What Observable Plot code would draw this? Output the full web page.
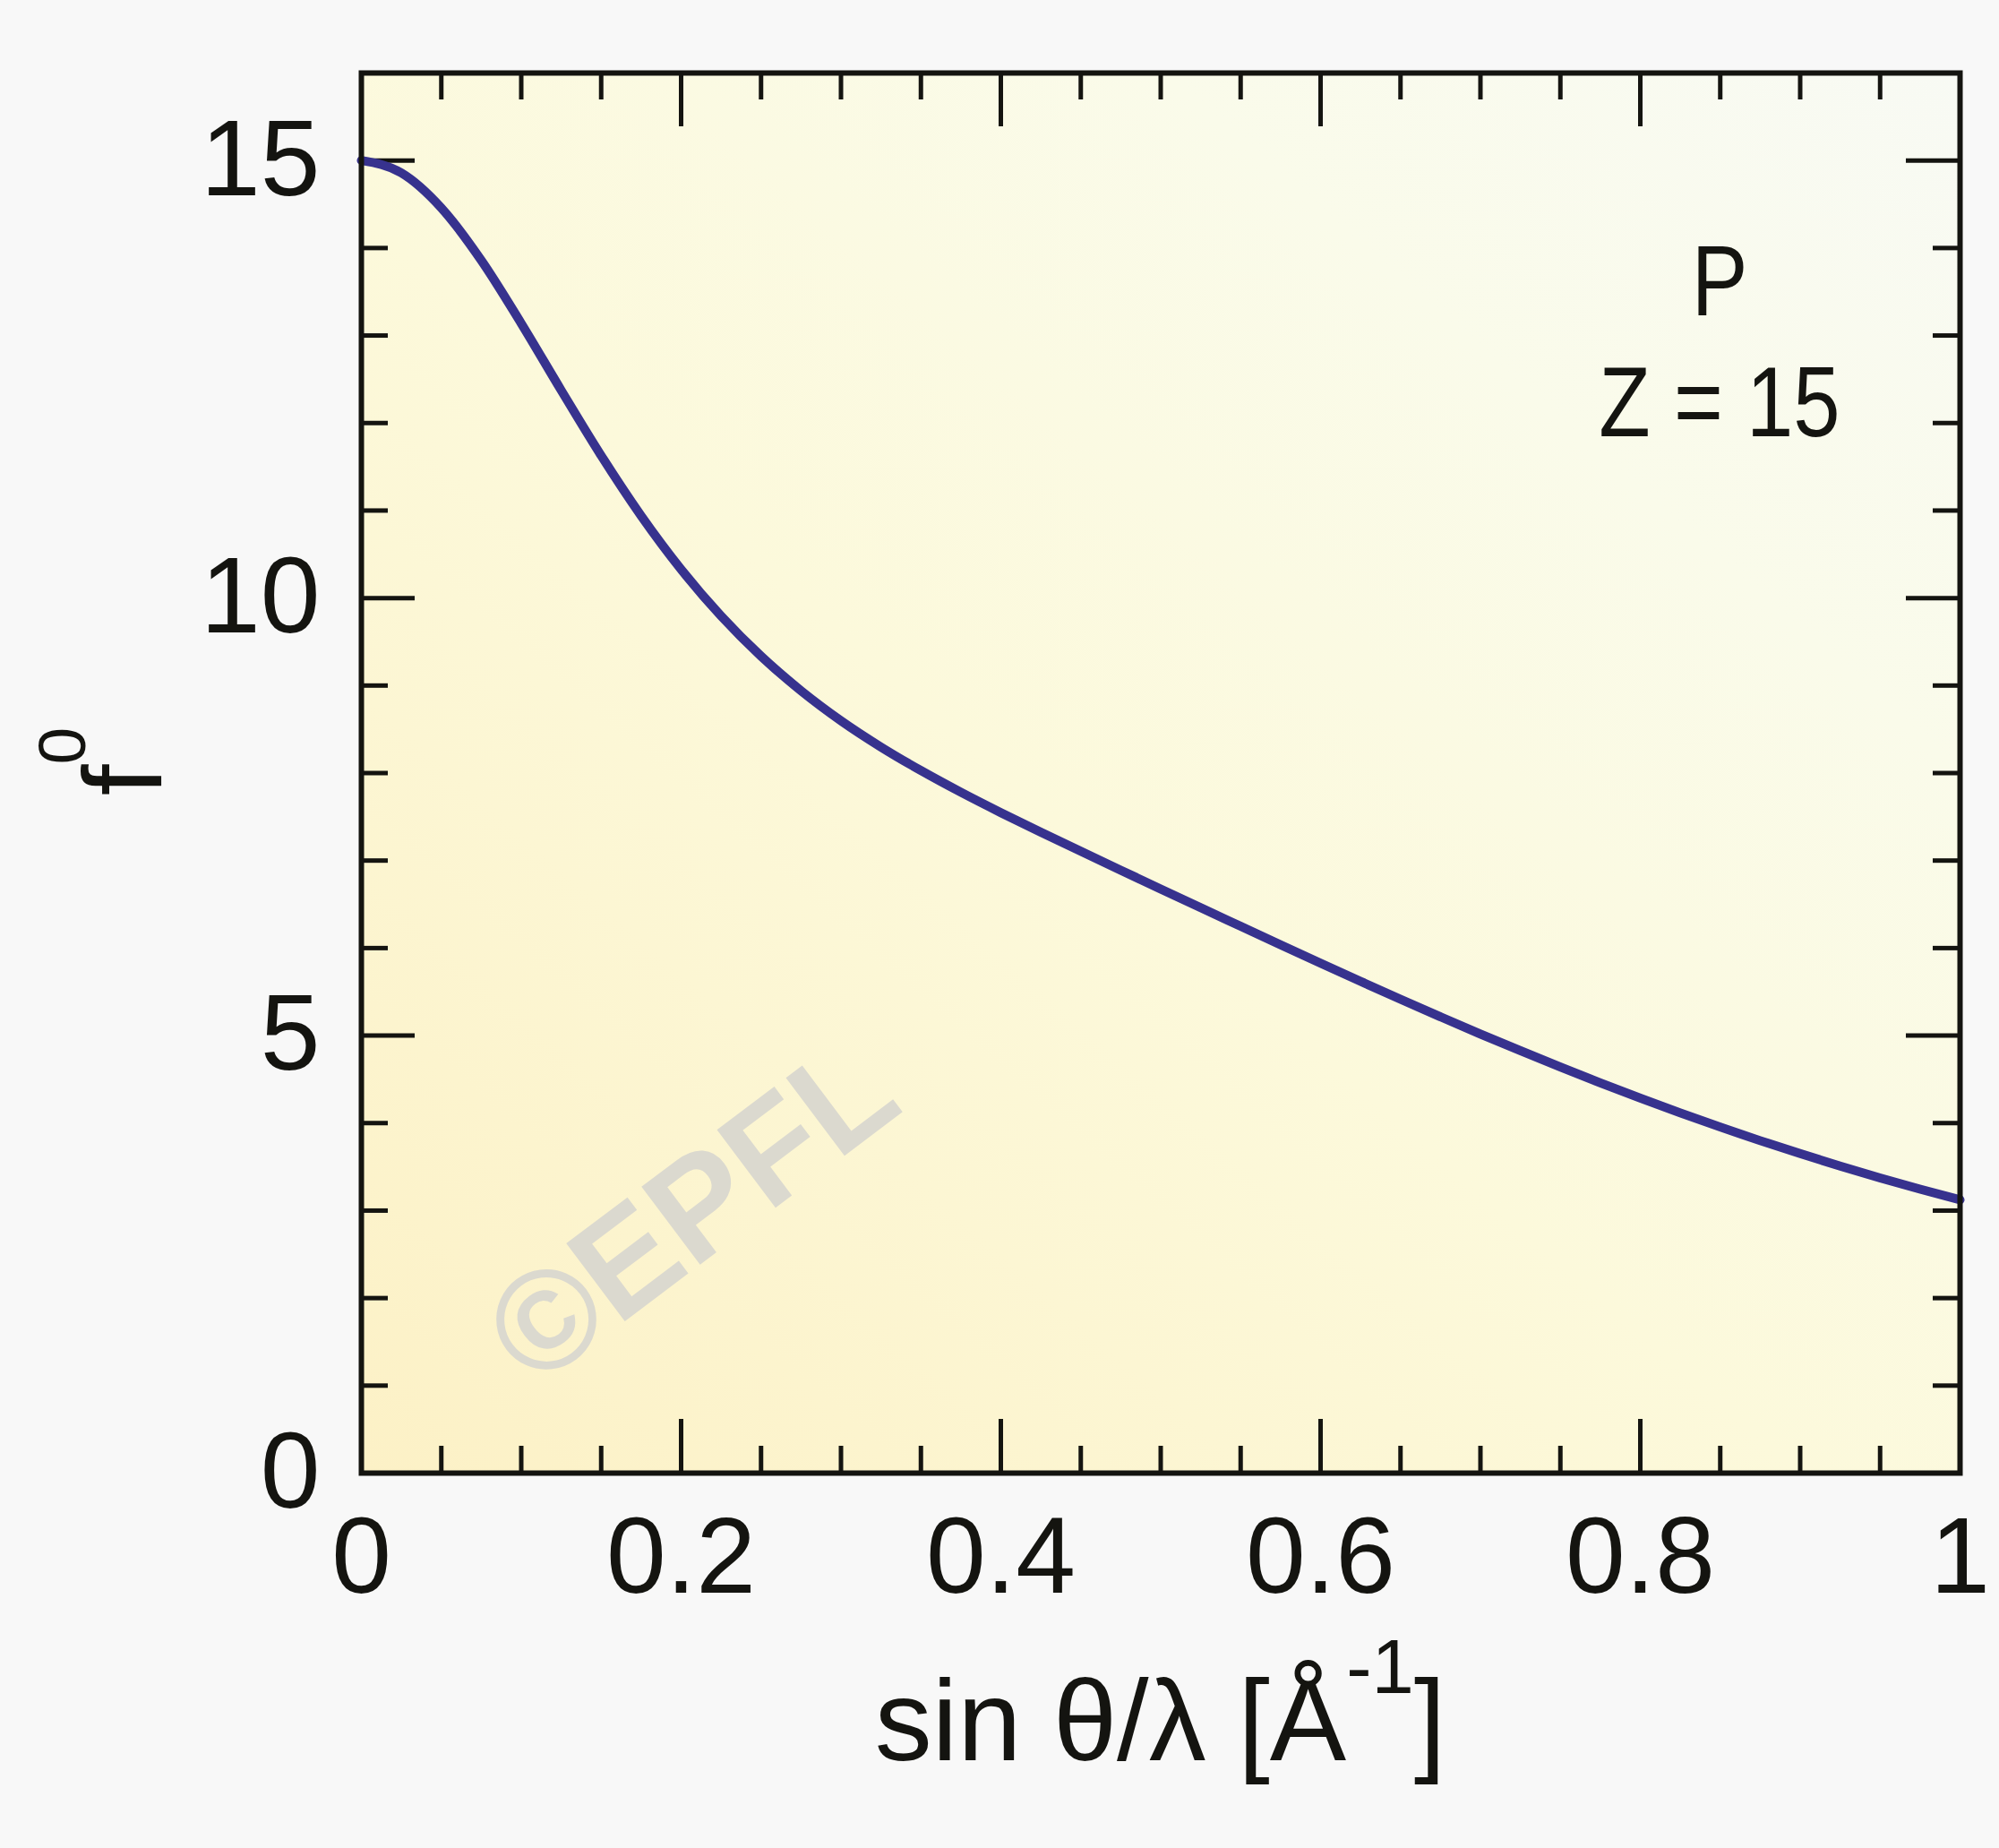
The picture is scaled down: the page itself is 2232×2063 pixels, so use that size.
<!DOCTYPE html>
<html>
<head>
<meta charset="utf-8">
<script src="https://cdn.jsdelivr.net/npm/d3@7"></script>
<script src="https://cdn.jsdelivr.net/npm/@observablehq/plot@0.6"></script>
<style>
  html, body { margin: 0; padding: 0; background: #f8f8f8; }
  #chart { width: 2232px; height: 2063px; }
</style>
</head>
<body>
<div id="chart"></div>
<script>
// ---- data (atomic scattering factor of P) ----
const sinThetaOverLambda = [0, 0.025, 0.05, 0.075, 0.1, 0.125, 0.15, 0.175, 0.2, 0.225, 0.25, 0.275, 0.3,
  0.325, 0.35, 0.375, 0.4, 0.425, 0.45, 0.475, 0.5, 0.525, 0.55, 0.575, 0.6, 0.625, 0.65, 0.675, 0.7,
  0.725, 0.75, 0.775, 0.8, 0.825, 0.85, 0.875, 0.9, 0.925, 0.95, 0.975, 1.0];
const f0Values = [15.0, 14.859, 14.459, 13.859, 13.138, 12.374, 11.628, 10.940, 10.328, 9.795, 9.336, 8.941, 8.598,
  8.298, 8.029, 7.781, 7.548, 7.324, 7.106, 6.890, 6.675, 6.461, 6.249, 6.037, 5.827, 5.620, 5.415, 5.215, 5.018,
  4.827, 4.640, 4.460, 4.285, 4.117, 3.955, 3.799, 3.651, 3.509, 3.373, 3.245, 3.123];

const xTicks = [0, 0.2, 0.4, 0.6, 0.8, 1];
const xTickLabels = ["0", "0.2", "0.4", "0.6", "0.8", "1"];
const xMinorTicks = [0.05, 0.1, 0.15, 0.25, 0.3, 0.35, 0.45, 0.5, 0.55, 0.65, 0.7, 0.75, 0.85, 0.9, 0.95];
const xMajorInner = [0.2, 0.4, 0.6, 0.8];
const yTicks = [0, 5, 10, 15];
const yTickLabels = ["0", "5", "10", "15"];
const yMinorTicks = [1, 2, 3, 4, 6, 7, 8, 9, 11, 12, 13, 14];
const yMajorInner = [5, 10, 15];
const elementLabel = "P";
const zLabel = "Z = 15";
const watermark = "©EPFL";

// ---- layout ----
const W = 2232, H = 2063;
const mL = 403, mR = 44, mT = 81, mB = 419;
const fw = W - mL - mR, fh = H - mT - mB;
const majorLen = 60, minorLen = 30;
const ink = "#141410";
const font = "'Liberation Sans', Arial, Helvetica, sans-serif";

const table = sinThetaOverLambda.map((s, i) => ({s, f: f0Values[i]}));

const plot = Plot.plot({
  width: W,
  height: H,
  marginLeft: mL, marginRight: mR, marginTop: mT, marginBottom: mB,
  style: {background: "#f8f8f8", fontFamily: font, color: ink, overflow: "visible"},
  x: {domain: [0, 1], label: null},
  y: {domain: [0, 16], label: null},
  marks: [
    Plot.frame({fill: "url(#bgGrad)", stroke: null}),
    Plot.text([watermark], {frameAnchor: "bottom-left", dx: 370, dy: -290, rotate: -37,
      fontSize: 158, fontWeight: "bold", fill: "#dbd9cf", textAnchor: "middle", lineAnchor: "middle",
      fontFamily: font, letterSpacing: "-6px"}),
    // inward ticks, left & right
    Plot.tickY(yMajorInner, {y: d => d, insetRight: fw - majorLen, stroke: ink, strokeWidth: 5}),
    Plot.tickY(yMajorInner, {y: d => d, insetLeft: fw - majorLen, stroke: ink, strokeWidth: 5}),
    Plot.tickY(yMinorTicks, {y: d => d, insetRight: fw - minorLen, stroke: ink, strokeWidth: 5}),
    Plot.tickY(yMinorTicks, {y: d => d, insetLeft: fw - minorLen, stroke: ink, strokeWidth: 5}),
    // inward ticks, bottom & top
    Plot.tickX(xMajorInner, {x: d => d, insetTop: fh - majorLen, stroke: ink, strokeWidth: 5}),
    Plot.tickX(xMajorInner, {x: d => d, insetBottom: fh - majorLen, stroke: ink, strokeWidth: 5}),
    Plot.tickX(xMinorTicks, {x: d => d, insetTop: fh - minorLen, stroke: ink, strokeWidth: 5}),
    Plot.tickX(xMinorTicks, {x: d => d, insetBottom: fh - minorLen, stroke: ink, strokeWidth: 5}),
    Plot.line(table, {x: "s", y: "f", stroke: "#37328e", strokeWidth: 10, curve: "monotone-x"}),
    Plot.frame({stroke: ink, strokeWidth: 6, fill: null}),
    Plot.axisX(xTicks, {tickSize: 0, tickPadding: 48, fontSize: 120, label: null,
      tickFormat: (d) => xTickLabels[xTicks.indexOf(d)], fill: ink}),
    Plot.axisY(yTicks, {tickSize: 0, tickPadding: 46, fontSize: 120, label: null,
      tickFormat: (d) => yTickLabels[yTicks.indexOf(d)], fill: ink})
  ]
});

const svg = d3.select(plot);
const defs = svg.insert("defs", ":first-child");
const grad = defs.append("linearGradient").attr("id", "bgGrad")
  .attr("x1", "0").attr("y1", "1").attr("x2", "1").attr("y2", "0");
grad.append("stop").attr("offset", "0").attr("stop-color", "#fcf1c6");
grad.append("stop").attr("offset", "0.45").attr("stop-color", "#fcf9db");
grad.append("stop").attr("offset", "0.75").attr("stop-color", "#fafbea");
grad.append("stop").attr("offset", "1").attr("stop-color", "#f8faf4");

// element annotation (condensed Helvetica look)
[[elementLabel, 352], [zLabel, 487]].forEach(([t, yb]) => {
  svg.append("text")
    .attr("transform", `translate(1920,${yb}) scale(0.84,1)`)
    .attr("text-anchor", "middle")
    .attr("font-family", font).attr("font-size", 112).attr("fill", ink)
    .text(t);
});

// x axis label with superscript
const xl = svg.append("text")
  .attr("x", mL + fw / 2).attr("y", 1965)
  .attr("text-anchor", "middle")
  .attr("font-family", font).attr("font-size", 128).attr("fill", ink);
xl.append("tspan").text("sin θ/λ [Å");
xl.append("tspan").attr("font-size", 85).attr("dy", -75).text("-1");
xl.append("tspan").attr("dy", 75).text("]");

// y axis label f^0 (rotated)
const yl = svg.append("text")
  .attr("transform", "translate(180,850) rotate(-90)")
  .attr("text-anchor", "middle")
  .attr("font-family", font).attr("font-size", 125).attr("fill", ink);
yl.append("tspan").text("f");
yl.append("tspan").attr("font-size", 75).attr("dy", -85).text("0");

document.getElementById("chart").appendChild(plot);
</script>
</body>
</html>
